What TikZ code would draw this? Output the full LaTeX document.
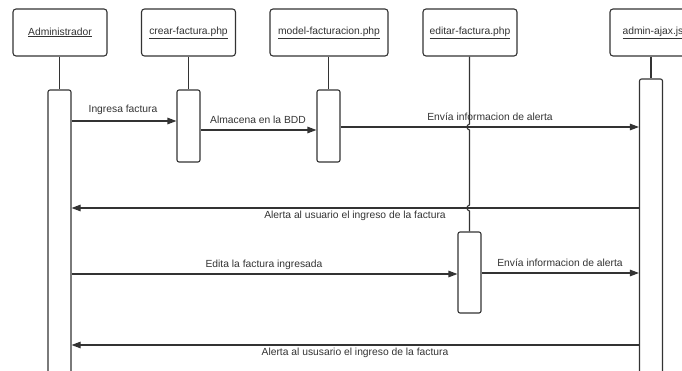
\documentclass[tikz,border=0pt]{standalone}
\usepackage{fontspec}
\setmainfont{Liberation Sans}
\usetikzlibrary{arrows.meta,calc}
\definecolor{ln}{HTML}{333333}
\begin{document}
\begin{tikzpicture}[x=1pt,y=-1pt,line width=1.1pt,
  hdr/.style={draw=ln, fill=white, rounded corners=3pt, minimum width=94pt, minimum height=47pt, inner sep=0pt, font=\fontsize{10.3}{12}\selectfont, text=ln},
  act/.style={draw=ln, fill=white, rounded corners=2pt, minimum width=23pt, inner sep=0pt},
  msg/.style={draw=ln, -{Triangle[length=9pt,width=6.5pt]}},
  lbl/.style={font=\fontsize{10.3}{12}\selectfont, text=ln, inner sep=0pt},
  life/.style={draw=ln}
]
\useasboundingbox (0,0) rectangle (682,370);
\clip (0,0) rectangle (682,370);
% headers
\node[hdr] (adm) at (60,32.5) {\underline{Administrador}};
\node[hdr] (cr) at (188.5,32.5) {\underline{crear-factura.php}};
\node[hdr, minimum width=118pt] (mo) at (329,32.5) {\underline{model-facturacion.php}};
\node[hdr] (ed) at (470,32.5) {\underline{editar-factura.php}};
\node[hdr, minimum width=86pt] (aj) at (653,32.5) {\underline{admin-ajax.js}};
% activations
\node[act, minimum height=290pt] (admA) at (59.5,235) {};
\node[act, minimum height=72pt] (crA) at (188.5,126) {};
\node[act, minimum height=72pt] (moA) at (328.5,126) {};
\node[act, minimum height=81pt] (edA) at (469.5,272.5) {};
\node[act, minimum height=301pt] (ajA) at (651,229.5) {};
% message levels
\coordinate (m1) at (0,121);
\coordinate (m2) at (0,130);
\coordinate (m3) at (0,127);
\coordinate (m4) at (0,208);
\coordinate (m5) at (0,274);
\coordinate (m6) at (0,273);
\coordinate (m7) at (0,345);
% lifelines
\draw[life] (admA.north |- adm.south) -- (admA.north);
\draw[life] (crA.north |- cr.south) -- (crA.north);
\draw[life] (moA.north |- mo.south) -- (moA.north);
\draw[life] (ajA.north |- aj.south) -- (ajA.north);
\draw[life] (edA.north |- ed.south) -- ($(edA.north |- m3)+(0,-3)$)
  .. controls +(-3.5,1) and +(-3.5,-1) .. ($(edA.north |- m3)+(0,3)$)
  -- ($(edA.north |- m4)+(0,-3)$)
  .. controls +(-3.5,1) and +(-3.5,-1) .. ($(edA.north |- m4)+(0,3)$)
  -- (edA.north);
% messages
\draw[msg] (admA.east |- m1) -- (crA.west |- m1);
\draw[msg] (crA.east |- m2) -- (moA.west |- m2);
\draw[msg] (moA.east |- m3) -- (ajA.west |- m3);
\draw[msg] (ajA.west |- m4) -- (admA.east |- m4);
\draw[msg] (admA.east |- m5) -- (edA.west |- m5);
\draw[msg] (edA.east |- m6) -- (ajA.west |- m6);
\draw[msg] (ajA.west |- m7) -- (admA.east |- m7);
% labels
\node[lbl] (l1) at (123,110) {Ingresa factura};
\node[lbl] (l2) at (258,120) {Almacena en la BDD};
\node[lbl] (l3) at (490,117) {Envía informacion de alerta};
\node[lbl] (l4) at (355,216) {Alerta al usuario el ingreso de la factura};
\node[lbl] (l5) at (264,265) {Edita la factura ingresada};
\node[lbl] (l6) at (560,263) {Envía informacion de alerta};
\node[lbl] (l7) at (355,353) {Alerta al ususario el ingreso de la factura};
\end{tikzpicture}
\end{document}
